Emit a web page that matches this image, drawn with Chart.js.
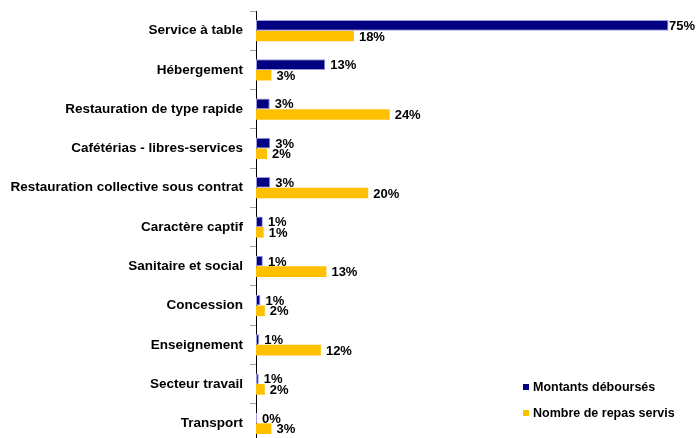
<!DOCTYPE html>
<html lang="fr">
<head>
<meta charset="utf-8">
<title>Montants déboursés et repas servis par type de service</title>
<script src="https://cdn.jsdelivr.net/npm/chart.js@4/dist/chart.umd.min.js"></script>
<style>
  html, body { margin: 0; padding: 0; background: #fff; overflow: hidden; }
  #wrap { width: 698px; height: 459px; }
</style>
</head>
<body>
<div id="wrap"><canvas id="chart1" width="698" height="459"></canvas></div>
<script>
const categories = [
  'Service à table',
  'Hébergement',
  'Restauration de type rapide',
  'Cafétérias - libres-services',
  'Restauration collective sous contrat',
  'Caractère captif',
  'Sanitaire et social',
  'Concession',
  'Enseignement',
  'Secteur travail',
  'Transport'
];
const seriesNames = ['Montants déboursés', 'Nombre de repas servis'];
// parts en % (arrondies à l'entier dans les étiquettes)
const montants = [75, 12.6, 2.5, 2.6, 2.6, 1.25, 1.25, 0.8, 0.6, 0.5, 0.2];
const repas = [17.8, 2.8, 24.3, 2.0, 20.4, 1.4, 12.8, 1.6, 11.8, 1.6, 2.8];

const NAVY = '#000080';
const GOLD = '#FFC000';
const FONT = '"Liberation Sans", Arial, sans-serif';

// pourcentage écrit au bout de chaque barre
const valueLabels = {
  id: 'valueLabels',
  afterDatasetsDraw(chart) {
    const ctx = chart.ctx;
    ctx.save();
    ctx.font = 'bold 13px ' + FONT;
    ctx.fillStyle = '#000';
    ctx.textBaseline = 'middle';
    ctx.textAlign = 'left';
    chart.data.datasets.forEach((ds, i) => {
      const meta = chart.getDatasetMeta(i);
      meta.data.forEach((bar, j) => {
        const txt = Math.round(ds.data[j]) + '%';
        const w = ctx.measureText(txt).width;
        let x = bar.x + 5;
        if (x + w > chart.width - 3) x = chart.width - 3 - w;
        ctx.fillText(txt, x, bar.y + 1);
      });
    });
    ctx.restore();
  }
};

// légende en bas à droite
const cornerLegend = {
  id: 'cornerLegend',
  afterDraw(chart) {
    const ctx = chart.ctx;
    ctx.save();
    ctx.font = 'bold 12.5px ' + FONT;
    ctx.textBaseline = 'middle';
    ctx.textAlign = 'left';
    chart.data.datasets.forEach((ds, i) => {
      const y = 387 + i * 26;
      ctx.fillStyle = ds.backgroundColor;
      ctx.fillRect(523, y - 3, 6, 6);
      ctx.fillStyle = '#000';
      ctx.fillText(ds.label, 533, y + 1);
    });
    ctx.restore();
  }
};

const data = {
  labels: categories,
  datasets: [
    {
      label: seriesNames[0],
      data: montants,
      backgroundColor: NAVY,
      borderColor: '#9a9ae0',
      borderWidth: 1,
      borderSkipped: false
    },
    {
      label: seriesNames[1],
      data: repas,
      backgroundColor: GOLD,
      borderColor: '#ffd966',
      borderWidth: 0
    }
  ]
};

const config = {
  type: 'bar',
  data: data,
  options: {
    indexAxis: 'y',
    responsive: false,
    animation: false,
    devicePixelRatio: 1,
    categoryPercentage: 0.54,
    barPercentage: 1.0,
    layout: { padding: { top: 11, right: 2, bottom: 16, left: 0 } },
    plugins: {
      legend: { display: false },
      tooltip: { enabled: false }
    },
    scales: {
      x: { type: 'linear', min: 0, max: 80, display: false },
      y: {
        position: 'left',
        grid: {
          offset: true,
          drawOnChartArea: false,
          tickLength: 6,
          color: '#a0a0a0'
        },
        border: { color: '#000', width: 1 },
        ticks: {
          color: '#000',
          padding: 7,
          autoSkip: false,
          font: { family: FONT, size: 13.5, weight: 'bold' }
        },
        afterFit(scale) {
          scale.width = 256;
          scale.paddingTop = 0;
          scale.paddingBottom = 0;
        }
      }
    }
  },
  plugins: [valueLabels, cornerLegend]
};

const myChart = new Chart(document.getElementById('chart1'), config);
</script>
</body>
</html>
